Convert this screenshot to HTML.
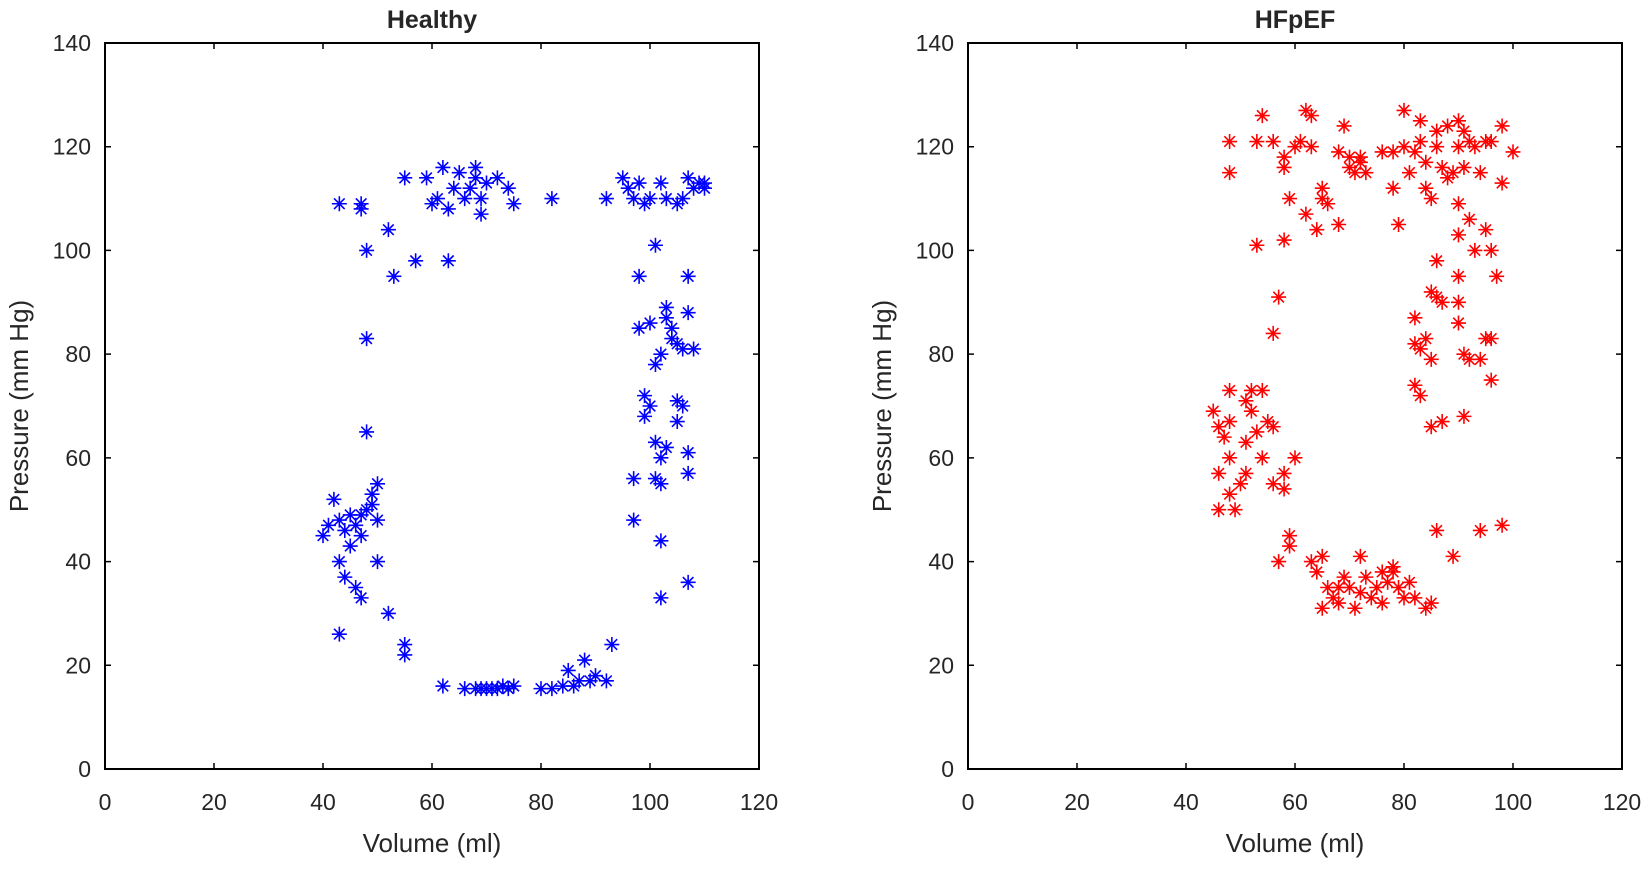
<!DOCTYPE html>
<html><head><meta charset="utf-8"><style>
body{margin:0;background:#fff;font-family:"Liberation Sans",Arial,sans-serif}
svg text{font-family:"Liberation Sans",Arial,sans-serif;fill:#262626}
</style></head><body>
<svg id="fig" width="1650" height="866"></svg>
<script>
const xTicks=[0,20,40,60,80,100,120];
const yTicks=[0,20,40,60,80,100,120,140];
const healthyVol=[43,47,47,48,52,53,55,57,59,60,61,62,63,63,64,65,66,67,68,68,69,69,70,72,74,75,82,92,95,96,97,98,99,100,102,103,105,106,107,108,109,110,110,
48,48,42,40,41,43,44,45,46,47,47,48,49,49,50,50,50,43,44,45,46,47,43,52,55,55,
62,66,68,69,70,71,72,73,74,75,80,82,84,85,86,87,88,89,90,92,93,
101,98,98,100,99,100,99,101,102,103,103,104,104,105,106,107,107,108,105,105,106,101,102,102,103,101,97,97,102,102,107,107,107];
const healthyP=[109,108,109,100,104,95,114,98,114,109,110,116,98,108,112,115,110,112,116,114,110,107,113,114,112,109,110,110,114,112,110,113,109,110,113,110,109,110,114,112,113,112,113,
83,65,52,45,47,48,46,49,47,45,49,50,51,53,55,48,40,40,37,43,35,33,26,30,24,22,
16,15.5,15.5,15.5,15.5,15.5,15.5,16,15.5,16,15.5,15.5,16,19,16,17,21,17,18,17,24,
101,95,85,86,72,70,68,78,80,87,89,85,83,82,81,95,88,81,71,67,70,63,60,55,62,56,56,48,44,33,36,57,61];
const hfpefVol=[48,48,53,54,56,58,58,59,60,61,62,63,63,62,64,65,65,66,68,68,69,70,70,71,72,72,73,76,78,78,79,80,80,81,82,83,83,84,84,85,86,86,87,88,88,89,90,90,91,91,92,93,94,95,96,98,98,100,
53,58,57,56,90,90,92,93,95,96,97,86,85,86,87,82,82,83,84,85,82,83,85,87,90,90,90,91,92,94,95,96,96,91,
45,46,47,48,48,46,46,48,48,49,50,51,51,51,52,52,53,54,55,56,56,54,58,58,60,57,59,59,
63,64,65,65,66,67,68,68,69,70,71,72,72,73,74,75,76,76,77,78,78,79,80,81,82,84,85,86,89,94,98];
const hfpefP=[121,115,121,126,121,118,116,110,120,121,127,126,120,107,104,110,112,109,105,119,124,118,116,115,118,117,115,119,119,112,105,127,120,115,119,125,121,117,112,110,120,123,116,124,114,115,120,125,123,116,121,120,115,121,121,124,113,119,
101,102,91,84,109,103,106,100,104,100,95,98,92,91,90,87,82,81,83,79,74,72,66,67,95,90,86,80,79,79,83,83,75,68,
69,66,64,73,67,57,50,53,60,50,55,57,63,71,73,69,65,73,67,66,55,60,54,57,60,40,43,45,
40,38,41,31,35,33,35,32,37,35,31,41,34,37,33,35,32,38,36,38,39,35,33,36,33,31,32,46,41,46,47];

const NS="http://www.w3.org/2000/svg";
const svg=document.getElementById('fig');
function mk(tag,attrs,parent){const e=document.createElementNS(NS,tag);for(const k in attrs)e.setAttribute(k,attrs[k]);(parent||svg).appendChild(e);return e;}

function panel(left,title,vols,ps,color,key){
  const top=43,bottom=769,right=left+654;
  const sx=v=>left+(v-0)/120*(right-left);
  const sy=p=>bottom-(p-0)/140*(bottom-top);
  const g=mk('g',{});
  
  
  const pts=mk('g',{stroke:color,'stroke-width':1.6,fill:'none'},g);
  
  
  for(let i=0;i<vols.length;i++){
    const x=sx(vols[i]),y=sy(ps[i]),r=7.5,d=5.3;
    const m=mk('path',{d:`M${x-r},${y}H${x+r}M${x},${y-r}V${y+r}M${x-d},${y-d}L${x+d},${y+d}M${x-d},${y+d}L${x+d},${y-d}`},pts);
    
    
  }
  const box=mk('rect',{x:left,y:top,width:right-left,height:bottom-top,fill:'none',stroke:'#000','stroke-width':2},g);
  
  
  xTicks.forEach(t=>{
    const x=sx(t);
    mk('path',{d:`M${x},${bottom}V${bottom-6}M${x},${top}V${top+6}`,stroke:'#000','stroke-width':1.5},g);
    const tx=mk('text',{x:x,y:810,'font-size':23,'text-anchor':'middle'},g);
    tx.textContent=t;
    
    
  });
  yTicks.forEach(t=>{
    const y=sy(t);
    mk('path',{d:`M${left},${y}H${left+6}M${right},${y}H${right-6}`,stroke:'#000','stroke-width':1.5},g);
    const tx=mk('text',{x:left-14,y:y+8,'font-size':23,'text-anchor':'end'},g);
    tx.textContent=t;
    
    
  });
  const ti=mk('text',{x:(left+right)/2,y:28,'font-size':25,'font-weight':'bold','text-anchor':'middle',fill:'#000'},g);
  ti.textContent=title;
  
  
  const xl=mk('text',{x:(left+right)/2,y:852,'font-size':26,'text-anchor':'middle'},g);
  xl.textContent='Volume (ml)';
  
  
  const yl=mk('text',{x:0,y:0,'font-size':26,'text-anchor':'middle',transform:`translate(${left-77},${(top+bottom)/2}) rotate(-90)`},g);
  yl.textContent='Pressure (mm Hg)';
  
  
}
panel(105,'Healthy',healthyVol,healthyP,'#0000ff','healthy');
panel(968,'HFpEF',hfpefVol,hfpefP,'#ff0000','hfpef');
</script>
</body></html>
